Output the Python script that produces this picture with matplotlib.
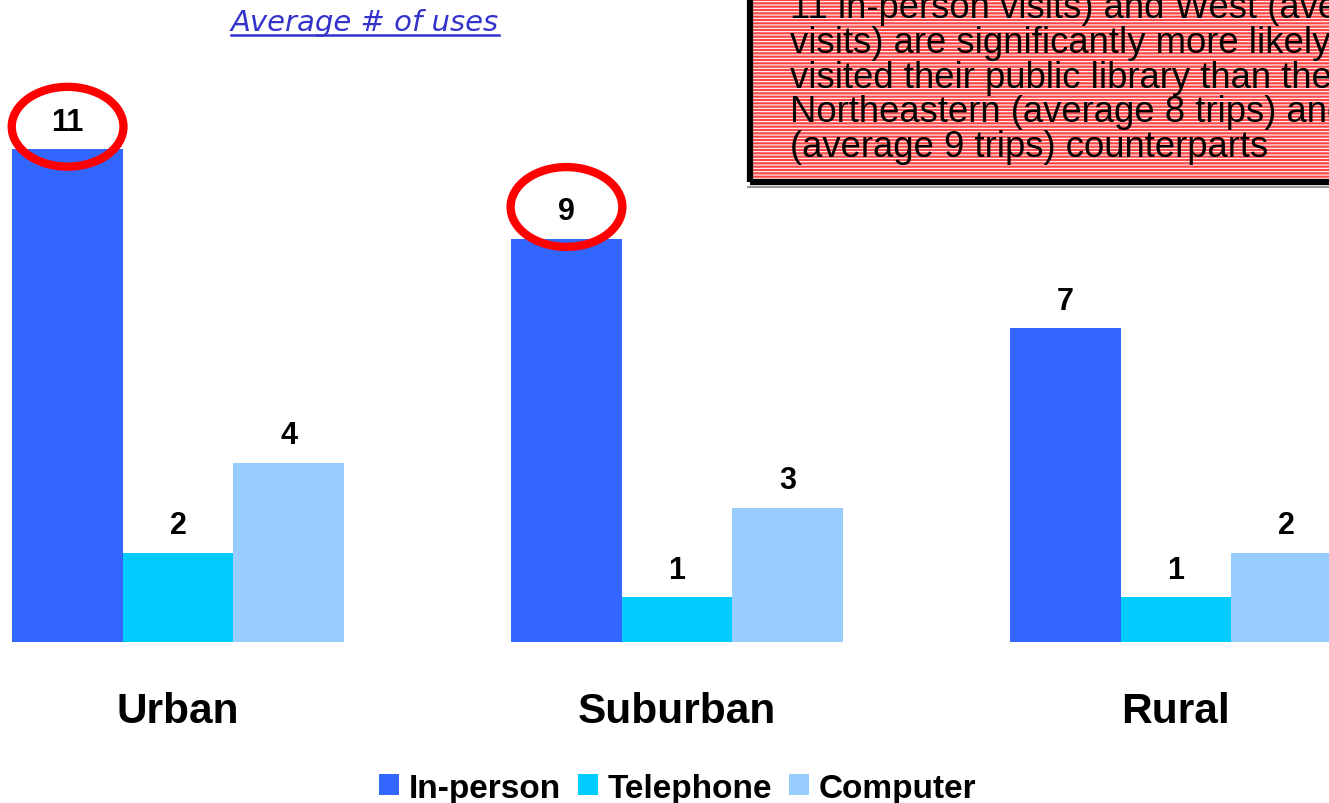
import matplotlib
matplotlib.use('Agg')
import matplotlib.pyplot as plt
from matplotlib.patches import Ellipse, Rectangle
from matplotlib.lines import Line2D
import numpy as np

# data
areas = ['Urban', 'Suburban', 'Rural']
in_person = [11, 9, 7]
telephone = [2, 1, 1]
computer = [4, 3, 2]
series = ['In-person', 'Telephone', 'Computer']
colors = ['#3366FF', '#00CCFF', '#99CCFF']
circled = [0, 1]   # groups whose in-person value is circled

note_lines = ['11 in-person visits) and West (average 10 in-person',
              'visits) are significantly more likely to have',
              'visited their public library than their',
              'Northeastern (average 8 trips) and Southern',
              '(average 9 trips) counterparts']

plt.rcParams['font.family'] = ['Liberation Sans', 'DejaVu Sans']

fig = plt.figure(figsize=(13.29, 8.04), dpi=100)
ax = fig.add_axes([0, 0.2, 1, 0.8])

x = np.arange(len(areas))
w = 0.2215
vals = [in_person, telephone, computer]
for i, (name, v, c) in enumerate(zip(series, vals, colors)):
    pos = x + (i - 1) * w
    ax.bar(pos, v, width=w, color=c, label=name, clip_on=False)
    for xp, val in zip(pos, v):
        ax.annotate(str(val), (xp, val), xytext=(0, 14), textcoords='offset points',
                    ha='center', va='baseline', fontsize=22, fontweight='bold')

# red ellipses around the highlighted values
ell_dy = [0.5, 0.71]
for g, dy in zip(circled, ell_dy):
    ax.add_patch(Ellipse((x[g] - w, in_person[g] + dy), 0.224, 1.78,
                         fill=False, edgecolor='#FF0000', lw=6, clip_on=False))

ax.set_xlim(-0.357, 2.307)
ax.set_ylim(0, 14.35)
ax.set_xticks(x, areas, fontsize=30.5, fontweight='bold')
ax.tick_params(axis='x', length=0, pad=35)
ax.set_yticks([])
for s in ax.spines.values():
    s.set_visible(False)

fig.legend(loc='lower center', bbox_to_anchor=(0.51, -0.038), ncol=3, frameon=False,
           prop={'weight': 'bold', 'size': 24}, handlelength=0.6, handleheight=0.6,
           handletextpad=0.3, columnspacing=0.5)

# title, underlined
t = fig.text(365 / 1329, 1 - 31 / 804, 'Average # of uses', ha='center', va='baseline',
             fontsize=21, style='italic', color='#3333CC', family='DejaVu Sans')
fig.canvas.draw()
bb = t.get_window_extent().transformed(fig.transFigure.inverted())
fig.add_artist(Line2D([bb.x0, bb.x1], [1 - 36 / 804] * 2, color='#3333CC', lw=1.8,
                      transform=fig.transFigure))

# note box
bx, by = 750 / 1329, 1 - 183 / 804
fig.add_artist(Line2D([748 / 1329, 1.0], [1 - 188 / 804] * 2, color='#999999', lw=1.5,
                      transform=fig.transFigure))
fig.add_artist(Rectangle((bx, by), 0.6, 0.4, transform=fig.transFigure,
                         facecolor='#FF4545', edgecolor='none'))
plt.rcParams['hatch.linewidth'] = 0.8
fig.add_artist(Rectangle((bx, by), 0.6, 0.4, transform=fig.transFigure,
                         facecolor='none', edgecolor='white', lw=0, hatch='-----'))
fig.add_artist(Rectangle((bx, by), 0.6, 0.4, transform=fig.transFigure,
                         facecolor='none', edgecolor='black', lw=4.5))
for k, line in enumerate(note_lines):
    yb = 157 - (len(note_lines) - 1 - k) * 34.75
    fig.text(790 / 1329, 1 - yb / 804, line, ha='left', va='baseline',
             fontsize=26.3, color='black')

fig.savefig('out.png', dpi=100)
